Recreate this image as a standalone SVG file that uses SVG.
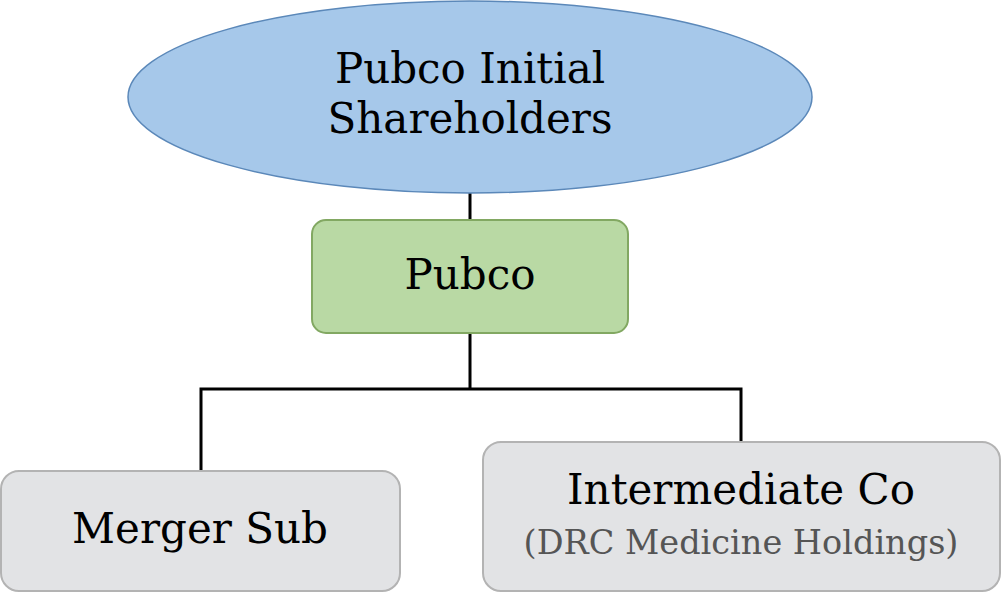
<svg xmlns="http://www.w3.org/2000/svg" width="1001" height="593" viewBox="0 0 1001 593">
<style>
text{font-family:"DejaVu Serif","Liberation Serif",serif;fill:#000;text-anchor:middle}
.big{font-size:42px}
.sub{font-size:33.5px;fill:#555}
.conn{stroke:#000;stroke-width:3;fill:none}
.gray{fill:#e2e3e5;stroke:#b3b3b3;stroke-width:2}
</style>
<rect width="1001" height="593" fill="#fff"/>
<g id="connectors">
<path class="conn" d="M470 193V220"/>
<path class="conn" d="M470 333V389M201 470V389H741V441"/>
</g>
<g id="shareholders">
<ellipse cx="470" cy="97" rx="342" ry="96" fill="#a6c8ea" stroke="#5b88b9" stroke-width="1.5"/>
<text class="big" x="470" y="83">Pubco Initial</text>
<text class="big" x="470" y="133">Shareholders</text>
</g>
<g id="pubco">
<rect x="312" y="220" width="316" height="113" rx="14" fill="#b9d9a4" stroke="#82a862" stroke-width="2"/>
<text class="big" x="470" y="289">Pubco</text>
</g>
<g id="mergersub">
<rect class="gray" x="1" y="471" width="399" height="120" rx="18"/>
<text class="big" x="200" y="543">Merger Sub</text>
</g>
<g id="intermediate">
<rect class="gray" x="483" y="442" width="517" height="149" rx="18"/>
<text class="big" x="741" y="504">Intermediate Co</text>
<text class="sub" x="741" y="554">(DRC Medicine Holdings)</text>
</g>
</svg>
